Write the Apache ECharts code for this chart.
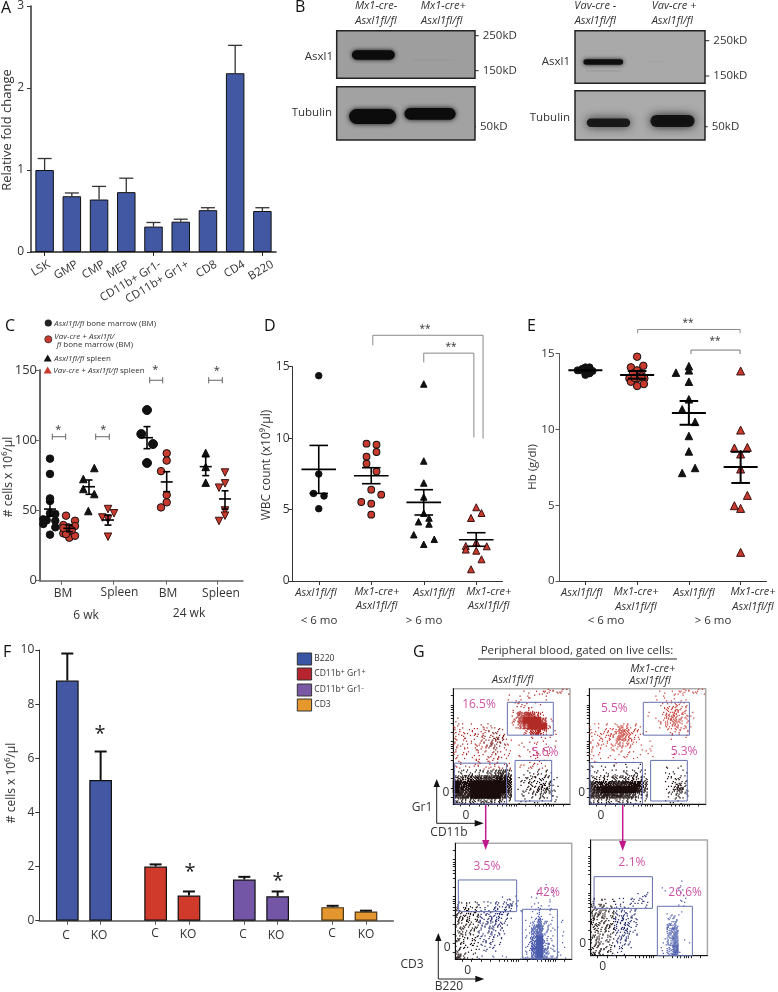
<!DOCTYPE html>
<html><head><meta charset="utf-8">
<style>html,body{margin:0;padding:0;background:#fff}#c{width:778px;height:992px}</style>
<script src="https://cdn.jsdelivr.net/npm/echarts@6/dist/echarts.min.js"></script>
</head><body><div id="c"></div>
<script>
// ---------- Panel A ----------
const aCategories=['LSK','GMP','CMP','MEP','CD11b+ Gr1-','CD11b+ Gr1+','CD8','CD4','B220'];
const aMeans=[1.0,0.68,0.64,0.73,0.31,0.37,0.51,2.18,0.50];
const aTops=[1.14,0.72,0.80,0.90,0.36,0.40,0.54,2.52,0.54];
// ---------- Panel C (x = position along the axis, swarm layout) ----------
const cBmCtrl6=[[10,86.9],[10,76],[10,58.6],[10,56.7],[10,32.8],[3.3,43.7],[3.3,40.4],[15.3,47.5],[15.3,42.7],[15.3,38],[6.7,43],[10,48]];
const cBmKo6=[[26,46.3],[35,42.7],[35,38.9],[23.3,39.6],[23.3,33.7],[28.3,38],[29.3,30.6],[35,32],[26,33.2],[31.7,36],[23.3,37.5]];
const cSpCtrl6=[[43.3,72.4],[43.3,65.3],[54.3,80.2],[54.3,61.7],[48.3,49.6]];
const cSpKo6=[[68,51],[74,48],[62.3,45],[68,31.3],[68,43.7]];
const cBmCtrl24=[[107,121.5],[101.3,104.4],[113,97.3],[107,83.8]];
const cBmKo24=[[126.7,90.7],[126.7,85.5],[121,78],[126.7,61],[126.7,55.8],[121,52.2]];
const cSpCtrl24=[[165.7,91],[165.7,81],[165.7,69.8]];
const cSpKo24=[[185,77],[185,69.3],[179,66.2],[185,50],[185,46.3],[179,42.5]];
const cStats=[[10,51,56,46],[29.3,37.3,39.6,34.9],[49,66.9,71.7,61.5],[68,43.2,46.8,39.6],[107,101.8,109.7,94],[126.7,70.3,77.6,63.4],[165.7,81.2,88.3,74.8],[185,58.2,64,51]];
const cBrackets=[[12.3,25.7,102.5],[55.7,69.3,102.5],[109.7,122.7,142.7],[168.7,182.3,142.7]];
const cAxisTicks=[21.7,73.3,126,177.3];
// ---------- Panel D ----------
const dCategories=['Asxl1fl/fl','Mx1-cre+\nAsxl1fl/fl','Asxl1fl/fl','Mx1-cre+\nAsxl1fl/fl'];
const dCtrlYoung=[[0,14.37],[0,7.49],[-0.1,6.13],[0.1,5.95],[0,5.06]];
const dKoYoung=[[0.91,9.61],[1.1,9.54],[1.1,9.03],[0.91,8.7],[0.91,8.21],[1.1,7.67],[1,6.39],[1.19,6.04],[0.81,5.53],[1,5.41],[1,4.64]];
const dCtrlOld=[[2,13.79],[2,8.4],[2,6.86],[2,5.88],[2,4.74],[1.9,4.15],[2.1,4.41],[2.1,3.99],[1.81,3.24],[2,2.57],[2.2,2.92]];
const dKoOld=[[3,5.16],[3.1,4.76],[2.9,4.41],[2.8,2.45],[3.2,2.43],[3,2.7],[2.8,2.2],[3,2.12],[3.1,1.52],[2.9,0.82]];
const dStats=[[0,7.81,9.49,6.13],[1,7.37,7.93,6.81],[2,5.5,6.39,4.62],[3,2.89,3.38,2.43]];
const dBracketOuter=[[1.03,16.5],[1.03,17.2],[3.13,17.2],[3.13,9.96]];
const dBracketInner=[[2,15.3],[2,15.95],[2.955,15.95],[2.955,10.05]];
// ---------- Panel E ----------
const eCtrlYoung=[[-0.15,13.9],[-0.08,13.9],[0,14.1],[0.08,14.1],[0.14,13.86],[0,13.6],[0.08,13.7],[-0.06,14]];
const eKoYoung=[[1,14.8],[1.12,14.2],[0.88,14.1],[1,13.9],[0.92,13.7],[1.08,13.7],[0.85,13.37],[1.14,13.37],[0.88,13.15],[1,13.37],[1.13,13],[1,12.87],[1.08,13.5],[0.95,13.4]];
const eCtrlOld=[[2,14.18],[2,13.9],[1.75,13.75],[2,13.15],[2,11.99],[1.87,11.33],[2.12,10.5],[2,9.57],[2,8.55],[2.12,7.46],[1.87,7.13]];
const eKoOld=[[3,13.86],[3,9.96],[2.88,8.78],[3.13,8.82],[3,8.38],[3,7.39],[3.13,5.65],[2.88,4.97],[3,4.79],[3,1.89]];
const eStats=[[0,13.9,13.9,13.9],[1,13.6,13.86,13.35],[2,11.08,11.88,10.31],[3,7.52,8.53,6.47]];
const eBracketOuter=[[1.01,16.35],[1.01,16.6],[2.99,16.6],[2.99,16.35]];
const eBracketInner=[[2.04,14.98],[2.04,15.24],[2.99,15.24],[2.99,14.98]];
// ---------- Panel F ----------
const fLegend=['B220','CD11b+ Gr1+','CD11b+ Gr1-','CD3'];
const fLabels=['C','KO','C','KO','C','KO','C','KO'];
const fLanes=[0.84,1.84,3.49,4.49,6.15,7.15,8.80,9.80];
const fMeans=[8.87,5.2,2.0,0.93,1.52,0.9,0.5,0.34];
const fTops=[9.87,6.25,2.08,1.08,1.62,1.08,0.55,0.37];
// ---------- Panel B: band darkness per blot [x0,x1,centre,height,darkness] in % of blot ----------
const blotMx1Asxl=[[11,42,51,20,1],[55,86,62,2,.05]];
const blotMx1Tub=[[9,43,56,28,1],[49,86,51,22,1]];
const blotVavAsxl=[[6.5,37,59.5,10,.95],[8.5,36,76.6,5,.05],[56,69,59,3,.03]];
const blotVavTub=[[9,42.5,65,17,.88],[58,92,61.5,24,.92]];
// ---------- Panel G: dot density read per 5% x 5% cell, top row first.
// digits = black dots, lowercase = gate colour, uppercase = darker gate colour; 1 sparse ... 9 saturated ----------
const gFlowCtrlMyeloid=[
"............a.abbbba",
".........a.aaa.a....",
"..........aba.a.....",
"..........aaba......",
"..........bfhgea....",
"a.........cgiiifa...",
"ba.aabaa..aehiiib...",
"bbababBBa...cfhd.a..",
"bbaabBCDCa...a.aa...",
"baabbBDCBa.a.aaa.a..",
"baaabbBBaa..aa.aa...",
"baaaaabbaa.a.ab.a...",
"aa.ababb.a...aaa....",
"aaaaaabbab.aabaa....",
"1222233564..11221...",
"5566777887.1232321..",
"9889999997.1233431..",
"9889999997.1234541..",
"8889999986.1123321..",
"4444444432.1111111.."];
const gFlowKoMyeloid=[
"............a.abbbba",
"...........aa.a.a...",
"............aabba...",
"............acdcb...",
"..........a.adecca..",
"...........abdedba..",
"aaaabdcba...acdcba..",
"babccfecba...abba...",
"abbcdfeca.....a.a...",
"abbbcdcba.a.........",
"ba.abbaa.aa.........",
"aa.a.ab.a.a...a.....",
"aa..a..a............",
"1.1.1.1.1....1.1....",
"1111112221...11.1...",
"3333444443...1221...",
"7777888885...1342...",
"8899999985...1363...",
"7788887643...1232...",
"3333333211...111...."];
const gFlowCtrlLymph=[
"....................",
"....................",
"....................",
"....................",
"....................",
"....................",
"....................",
"...............a....",
"..............a.a...",
"........AAA..a..a...",
"2212AABBCDA..aa.a...",
"3333BBCBCB.a.ab.a...",
"4333BCCDBA...ac.a...",
"3333CCDCB...abfca.a.",
"3323BCCCA...afhcaa..",
"3322BBCBA...afhca.a.",
"3222BBBA....bfica...",
"2222ABBA....bgidb.a.",
"3111AAA.....bhifba..",
"6211A.a.a..abgiebaa."];
const gFlowKoLymph=[
"....................",
"....................",
"....................",
"....................",
"....................",
"....................",
"....................",
"...............a....",
"............a..a....",
"........AB.....a....",
"2111AAABCA.....aa...",
"3322BBAA.A.....a....",
"4433BCBB.....a.a....",
"4333CDCB.....bc.....",
"4333CCCB.....dd.....",
"3333CDCA.....ef.....",
"3322BCCA.....eg.....",
"3322BCB.....adg.a...",
"3322BBA.....adh.....",
"4322AA......adha...."];
// gates [x0,x1,y0,y1] and percent labels [text,x,y], in % of the plot
const gGatesCtrlMyeloid=[[46.3,85.7,59.7,88.2],[1.1,45.7,0,35.4],[52.9,84.3,2.6,37.8]];
const gGatesKoMyeloid=[[46.4,86,59.7,88.2],[0.6,45.6,0,36],[52.7,84.2,2.6,37.8]];
const gGatesCtrlLymph=[[2.6,52.7,41.1,68.4],[57.6,87.7,0.9,43.1]];
const gGatesKoLymph=[[2.9,52.9,40.9,68.3],[57.1,87.1,0,42.7]];
const gPctCtrlMyeloid=[['16.5%',22,86.6],['5.6%',78.6,44.7]];
const gPctKoMyeloid=[['5.5%',21.5,83],['5.3%',81.4,45.5]];
const gPctCtrlLymph=[['3.5%',27.2,80.2],['42%',79.7,57.5]];
const gPctKoLymph=[['2.1%',35.4,80.1],['26.6%',80.9,54.8]];
const gAxisTicks=[6,14,22,30,38,42,45,48,50,52,54,62,70,74,77,80,82,84,86,94];

// ---------- Build helpers ----------
const FF='"Open Sans","Noto Sans",sans-serif', TXT='#333';
const grids=[],xAxes=[],yAxes=[],series=[],gfx=[];
function panel(box,xa,ya){
  grids.push(Object.assign({containLabel:false},box));
  const i=grids.length-1;
  xAxes.push(Object.assign({gridIndex:i},xa)); yAxes.push(Object.assign({gridIndex:i},ya));
  return i;
}
function hiddenAxis(extra){return Object.assign({type:'value',min:0,max:100,show:false},extra||{});}
function yValue(min,max,step,fs,col,lw,mg){return {type:'value',min:min,max:max,interval:step,
  axisLine:{show:true,onZero:false,lineStyle:{color:col,width:lw}},axisTick:{show:true,length:4,lineStyle:{color:col,width:1}},
  axisLabel:{fontFamily:FF,fontSize:fs,color:TXT,margin:mg},splitLine:{show:false}};}
function xValue(min,max,ticks,col,lw){return {type:'value',min:min,max:max,
  axisLine:{show:true,onZero:false,lineStyle:{color:col,width:lw}},axisTick:{show:true,length:4,customValues:ticks,lineStyle:{color:col,width:1}},
  axisLabel:{show:false},splitLine:{show:false}};}
function T(x,y,text,o){o=o||{};
  const size=o.size||11;
  const st={text:text,fontFamily:FF,fontSize:size,fontStyle:o.italic?'italic':'normal',fill:o.color||TXT,textAlign:o.align||'center',textVerticalAlign:'middle'};
  if(o.rich)st.rich=o.rich;
  gfx.push({type:'text',x:x,y:y,rotation:o.rot||0,silent:true,z:50,style:st});
}
function L(points,col,w){gfx.push({type:'polyline',silent:true,z:40,shape:{points:points},style:{stroke:col,lineWidth:w,fill:null}});}
function scatter(i,data,symbol,size,fill,stroke,rot,bw){series.push({type:'scatter',xAxisIndex:i,yAxisIndex:i,data:data,symbol:symbol,symbolSize:size,symbolRotate:rot||0,silent:true,clip:false,z:3,
  itemStyle:{color:fill,borderColor:stroke,borderWidth:bw===undefined?1:bw,opacity:1}});}
function stats(i,data,hw,cw,lw){series.push({type:'custom',xAxisIndex:i,yAxisIndex:i,data:data,silent:true,z:5,
  renderItem:function(p,api){const x=api.value(0),m=api.coord([x,api.value(1)]),h=api.coord([x,api.value(2)]),l=api.coord([x,api.value(3)]);
    const s={stroke:'#000',lineWidth:lw};
    const ln=(a,b,c,d)=>({type:'line',shape:{x1:a,y1:b,x2:c,y2:d},style:s});
    return {type:'group',children:[ln(m[0]-hw,m[1],m[0]+hw,m[1]),ln(m[0],h[1],m[0],l[1]),ln(m[0]-cw,h[1],m[0]+cw,h[1]),ln(m[0]-cw,l[1],m[0]+cw,l[1])]};}});}
function topErr(i,data,cw,lw,col){series.push({type:'custom',xAxisIndex:i,yAxisIndex:i,data:data,silent:true,z:5,
  renderItem:function(p,api){const b=api.coord([api.value(0),api.value(1)]),t=api.coord([api.value(0),api.value(2)]);
    const s={stroke:col,lineWidth:lw};
    return {type:'group',children:[{type:'line',shape:{x1:b[0],y1:b[1],x2:t[0],y2:t[1]},style:s},{type:'line',shape:{x1:t[0]-cw,y1:t[1],x2:t[0]+cw,y2:t[1]},style:s}]};}});}
function polyline(i,pts,col,w){series.push({type:'line',xAxisIndex:i,yAxisIndex:i,data:pts,showSymbol:false,silent:true,clip:false,lineStyle:{color:col,width:w},z:2});}

// ---------- A ----------
(function(){
  const i=panel({left:31,top:3.5,width:245,height:248.5},
    {type:'category',data:aCategories,axisLine:{lineStyle:{color:'#222',width:1.5}},axisTick:{show:true,alignWithLabel:true,length:4,lineStyle:{color:'#222'}},
     axisLabel:{show:false}},
    yValue(0,3,1,12,'#333',1.5,7));
  series.push({type:'bar',xAxisIndex:i,yAxisIndex:i,data:aMeans,barWidth:18.5,silent:true,itemStyle:{color:'#4358a3',borderColor:'#111',borderWidth:1}});
  topErr(i,aCategories.map((c,k)=>[k,aMeans[k],aTops[k]]),7,1.3,'#333');
  const ends=[49,77,104,128,160,188,216,244,272.7];
  aCategories.forEach((c,k)=>T(ends[k],263.5,c,{size:11.5,align:'right',rot:31*Math.PI/180}));
  T(7,130,'Relative fold change',{size:13,rot:Math.PI/2});
  T(6,8,'A',{size:16,color:'#111'});
})();

// ---------- B ----------
function blot(box,bands,bg,blur){
  const i=panel(Object.assign({show:true,backgroundColor:bg,borderColor:'#222',borderWidth:1.5},box),hiddenAxis(),hiddenAxis({inverse:true}));
  series.push({type:'custom',xAxisIndex:i,yAxisIndex:i,data:bands,silent:true,
    renderItem:function(p,api){const yc=api.value(2),h=api.value(3),a=api.value(4);
      const p0=api.coord([api.value(0),yc-h/2]),p1=api.coord([api.value(1),yc+h/2]);
      const c='rgba(12,12,12,'+a+')';
      return {type:'rect',shape:{x:p0[0],y:p0[1],width:p1[0]-p0[0],height:p1[1]-p0[1],r:(p1[1]-p0[1])/2},style:{fill:c,shadowBlur:blur,shadowColor:c}};}});
}
blot({left:336.7,top:30.7,width:138.3,height:47.6},blotMx1Asxl,'#9e9e9e',4);
blot({left:336.7,top:86.7,width:138.3,height:53.3},blotMx1Tub,'#a2a2a2',5);
blot({left:575,top:30.7,width:130,height:52.6},blotVavAsxl,'#a9a9a9',4);
blot({left:575,top:90.7,width:130,height:49.3},blotVavTub,'#ababab',10);
T(295,7,'B',{size:16,color:'#111',align:'left'});
T(376,5.5,'Mx1-cre-',{italic:1});T(376,21,'Asxl1fl/fl',{italic:1});
T(443.3,5.5,'Mx1-cre+',{italic:1});T(441.7,21,'Asxl1fl/fl',{italic:1});
T(595.3,5.5,'Vav-cre -',{italic:1});T(595.3,21,'Asxl1fl/fl',{italic:1});
T(674,5.5,'Vav-cre +',{italic:1});T(672.3,21,'Asxl1fl/fl',{italic:1});
T(333,56.7,'Asxl1',{align:'right',size:11.5});T(332,113,'Tubulin',{align:'right',size:11.5});
T(570,62,'Asxl1',{align:'right',size:11.5});T(570,118,'Tubulin',{align:'right',size:11.5});
[[35.7,482.7,'250kD',475],[70.7,482.7,'150kD',475],[126.7,480,'50kD',475],[40.7,713.3,'250kD',705],[76,713.3,'150kD',705],[126.7,711.7,'50kD',705]].forEach(m=>{
  L([[m[3],m[0]],[m[1]-4,m[0]]],'#222',1);T(m[1],m[0],m[2],{align:'left',size:11.5});});

// ---------- C ----------
(function(){
  const i=panel({left:40,top:370,width:203,height:210.7},xValue(0,203,cAxisTicks,'#666',1.5),yValue(0,150,50,13,'#666',2,3));
  const R='#c8392e',K='#111',RB='#3a1210';
  scatter(i,cBmCtrl6,'circle',7.5,K,K);
  scatter(i,cBmKo6,'circle',7.5,R,K);
  scatter(i,cSpCtrl6,'triangle',7.5,K,K);
  scatter(i,cSpKo6,'triangle',7.5,R,RB,180);
  scatter(i,cBmCtrl24,'circle',9,K,K);
  scatter(i,cBmKo24,'circle',7.5,R,K);
  scatter(i,cSpCtrl24,'triangle',7.5,K,K);
  scatter(i,cSpKo24,'triangle',7.5,R,RB,180);
  stats(i,cStats,6,3.5,1.6);
  cBrackets.forEach(b=>{polyline(i,[[b[0],b[2]+2.2],[b[0],b[2]-2.2]],'#666',1);polyline(i,[[b[0],b[2]],[b[1],b[2]]],'#666',1);polyline(i,[[b[1],b[2]+2.2],[b[1],b[2]-2.2]],'#666',1);});
  T(5,326,'C',{size:16,color:'#111',align:'left'});
  [[58.3,427.5],[103.3,427.5],[155.3,367.5],[216.7,368.5]].forEach(s=>T(s[0],s[1]+2,'*',{size:11}));
  T(63,593.5,'BM',{size:12});T(119.5,592.5,'Spleen',{size:12});T(168,593.5,'BM',{size:12});T(221,593.5,'Spleen',{size:12});
  T(86,615.5,'6 wk',{size:12});T(189,614,'24 wk',{size:12});
  T(9,477,'# cells x 10⁶/µl',{size:12,rot:Math.PI/2});
  const rich={i:{fontStyle:'italic',fontSize:8,fontFamily:FF,fill:TXT},n:{fontSize:8,fontFamily:FF,fill:TXT}};
  T(54.3,323.5,'{i|Asxl1fl/fl} {n|bone marrow (BM)}',{size:8,align:'left',rich});
  T(54.3,336.7,'{i|Vav-cre + Asxl1fl/}',{size:8,align:'left',rich});
  T(56.7,345,'{i|fl} {n|bone marrow (BM)}',{size:8,align:'left',rich});
  T(54.3,358.7,'{i|Asxl1fl/fl} {n|spleen}',{size:8,align:'left',rich});
  T(53.3,370.3,'{i|Vav-cre + Asxl1fl/fl} {n|spleen}',{size:8,align:'left',rich});
  gfx.push({type:'circle',silent:true,z:40,shape:{cx:48.3,cy:323,r:3.6},style:{fill:'#222'}});
  gfx.push({type:'circle',silent:true,z:40,shape:{cx:48.3,cy:339.3,r:3.6},style:{fill:R,stroke:'#333',lineWidth:.8}});
  gfx.push({type:'polygon',silent:true,z:40,shape:{points:[[47.7,354.5],[51.7,361.5],[43.7,361.5]]},style:{fill:'#111'}});
  gfx.push({type:'polygon',silent:true,z:40,shape:{points:[[47.7,366.5],[51.7,373.5],[43.7,373.5]]},style:{fill:R}});
})();

// ---------- D ----------
(function(){
  const i=panel({left:292.5,top:366.7,width:210,height:214.3},xValue(-0.5,3.5,[0,1,2,3],'#333',1),yValue(0,15,5,12,'#333',1,3));
  const R='#c8392e',K='#111',RB='#3a1210';
  scatter(i,dCtrlYoung,'circle',6.5,K,K);
  scatter(i,dKoYoung,'circle',6.8,R,K);
  scatter(i,dCtrlOld,'triangle',6.5,K,K);
  scatter(i,dKoOld,'triangle',7,R,RB);
  stats(i,dStats,17.3,9.3,1.6);
  polyline(i,dBracketOuter,'#888',1);polyline(i,dBracketInner,'#888',1);
  T(425,329,'**',{size:10});T(451,347,'**',{size:10});
  const ys=[592.7,606.7];
  [[316,0],[376.7,1],[434,2],[488.7,3]].forEach(a=>{
    dCategories[a[1]].split('\n').forEach((t,j,arr)=>T(a[0],arr.length>1?ys[j]-.7:592.5,t,{italic:1,size:11}));
  });
  T(319,621,'< 6 mo',{size:11.5});T(424,621,'> 6 mo',{size:11.5});
  T(267,465,'WBC count (x10⁹/µl)',{size:12,rot:Math.PI/2});
  T(264,326,'D',{size:16,color:'#111',align:'left'});
})();

// ---------- E ----------
(function(){
  const i=panel({left:559.5,top:353.7,width:207,height:227.3},xValue(-0.5,3.5,[0,1,2,3],'#333',1),yValue(0,15,5,11.5,'#555',1,5));
  const R='#c8392e',K='#111',RB='#3a1210';
  scatter(i,eCtrlYoung,'circle',7,K,K);
  scatter(i,eKoYoung,'circle',7.5,R,K);
  scatter(i,eCtrlOld,'triangle',7.5,K,K);
  scatter(i,eKoOld,'triangle',8,R,RB);
  stats(i,eStats,17,9.3,2);
  polyline(i,eBracketOuter,'#888',1);polyline(i,eBracketInner,'#777',1);
  T(688,323,'**',{size:10});T(715,341,'**',{size:10});
  [[581.7,0],[636,1],[694,2],[753,3]].forEach(a=>{
    dCategories[a[1]].split('\n').forEach((t,j,arr)=>T(a[0],arr.length>1?[592,607][j]:592.5,t,{italic:1,size:11}));
  });
  T(606,621,'< 6 mo',{size:11.5});T(713,621,'> 6 mo',{size:11.5});
  T(533,467,'Hb (g/dl)',{size:11.5,rot:Math.PI/2});
  T(527,326,'E',{size:16,color:'#111',align:'left'});
})();

// ---------- F ----------
(function(){
  const colors=['#4457a3','#4457a3','#cf3a2a','#cf3a2a','#7356a5','#7356a5','#e2962d','#e2962d'];
  const i=panel({left:39.3,top:650,width:354,height:270.7},xValue(0,10.62,fLanes,'#555',1.5),yValue(0,10,2,12,'#333',1,5));
  series.push({type:'bar',xAxisIndex:i,yAxisIndex:i,barWidth:22.7,silent:true,
    data:fLanes.map((x,k)=>({value:[x,fMeans[k]],itemStyle:{color:colors[k],borderColor:k>5?'#4a3515':'#111',borderWidth:1.2}}))});
  topErr(i,fLanes.map((x,k)=>[x,fMeans[k],fTops[k]]),6,2,'#111');
  const ly=[936,936,934,935,935,936,934,935],lx=[66,99,155,188,243,276,332,366];
  fLabels.forEach((t,k)=>T(lx[k],ly[k],t,{size:12}));
  [[100,734],[190,872],[278,881]].forEach(s=>T(s[0],s[1],'*',{size:20,color:'#222'}));
  T(12,783,'# cells x 10⁶/µl',{size:12,rot:Math.PI/2});
  T(3,652,'F',{size:16,color:'#111',align:'left'});
  const lc=['#3a55a4','#b5242f','#7a58a6','#e7982c'],lt=[659,674,690,705];
  const sup={n:{fontSize:8.5,fontFamily:FF,fill:TXT},s:{fontSize:7,fontFamily:FF,fill:TXT,verticalAlign:'top',padding:[0,0,4,0]}};
  const labs=['B220','{n|CD11b}{s|+} {n|Gr1}{s|+}','{n|CD11b}{s|+} {n|Gr1}{s|-}','CD3'];
  fLegend.forEach((t,k)=>{
    gfx.push({type:'rect',silent:true,z:40,shape:{x:297.3,y:lt[k]-6,width:14.3,height:12},style:{fill:lc[k],stroke:'#333',lineWidth:1}});
    T(314.3,lt[k],labs[k],{size:8.5,align:'left',rich:sup});
  });
})();

// ---------- G ----------
function flow(box,rows,gates,pcts,c1,c2,xZero,yZero){
  const ax=(ticks)=>({type:'value',min:0,max:100,axisLine:{show:true,onZero:false,lineStyle:{color:'#111',width:1}},
    axisTick:{show:true,inside:false,length:2.5,customValues:ticks,lineStyle:{color:'#222',width:1}},axisLabel:{show:false},splitLine:{show:false}});
  const i=panel(Object.assign({show:true,borderColor:'#aaa',borderWidth:1.5},box),ax(gAxisTicks),ax(gAxisTicks));
  const cells=[];
  rows.forEach((r,row)=>{for(let col=0;col<r.length;col++){const ch=r[col];if(ch==='.')continue;
    let lv,tone;
    if(ch>='0'&&ch<='9'){lv=+ch;tone=0;}else if(ch>='a'&&ch<='i'){lv=ch.charCodeAt(0)-96;tone=1;}else{lv=ch.charCodeAt(0)-64;tone=2;}
    cells.push([col,row,lv,tone]);}});
  const COUNT=[0,2,4,6,9,13,18,23,29,36];
  const ORDER=[14,27,3,32,9,20,1,24,35,11,17,6,29,12,22,0,33,8,19,26,4,15,30,10,23,2,34,13,7,28,18,5,25,16,31,21];
  const tones=['#1a0c0c',c1,c2];
  series.push({type:'custom',xAxisIndex:i,yAxisIndex:i,data:cells,silent:true,z:2,
    renderItem:function(p,api){const col=api.value(0),row=api.value(1),lv=api.value(2),tn=api.value(3);
      const o=api.coord([col*5,100-row*5]),sz=api.size([5,5]),w=sz[0],h=sz[1],f=tones[tn];
      const kids=[];
      if(lv===9)kids.push({type:'rect',shape:{x:o[0]-.6,y:o[1]-.6,width:w+1.2,height:h+1.2},style:{fill:f}});
      else{const st=(col*7+row*11)%36;
        for(let k=0;k<COUNT[lv];k++){const id=ORDER[(st+k)%36];
          kids.push({type:'rect',shape:{x:o[0]+(id%6)*w/6,y:o[1]+Math.floor(id/6)*h/6,width:1.25,height:1.25},style:{fill:f}});}}
      return {type:'group',children:kids};}});
  series.push({type:'custom',xAxisIndex:i,yAxisIndex:i,data:gates,silent:true,z:4,
    renderItem:function(p,api){const a=api.coord([api.value(0),api.value(3)]),b=api.coord([api.value(1),api.value(2)]);
      return {type:'rect',shape:{x:a[0],y:a[1],width:b[0]-a[0],height:b[1]-a[1]},style:{fill:null,stroke:'#6470ad',lineWidth:1}};}});
  series.push({type:'scatter',xAxisIndex:i,yAxisIndex:i,symbolSize:0,silent:true,z:6,clip:false,
    data:pcts.map(q=>({value:[q[1],q[2]],label:{show:true,position:'inside',formatter:q[0],fontFamily:FF,fontSize:12,color:'#c2278f'}}))});
  T(xZero[0],xZero[1],'0',{size:12});T(yZero[0],yZero[1],'0',{size:12});
}
flow({left:453.3,top:688.7,width:116.7,height:115.3},gFlowCtrlMyeloid,gGatesCtrlMyeloid,gPctCtrlMyeloid,'#b02a26','#7a1c1a',[466,815.7],[446,793]);
flow({left:589.3,top:688.7,width:116.4,height:115.3},gFlowKoMyeloid,gGatesKoMyeloid,gPctKoMyeloid,'#c9443c','#8a2420',[601,815.7],[581.7,793]);
flow({left:455.3,top:843.3,width:116.4,height:116},gFlowCtrlLymph,gGatesCtrlLymph,gPctCtrlLymph,'#4a5bab','#232a6e',[467.7,971],[447.3,948]);
flow({left:590.7,top:840,width:116.7,height:115.7},gFlowKoLymph,gGatesKoLymph,gPctKoLymph,'#4a5bab','#232a6e',[602.7,967],[582.7,944]);
T(413,652,'G',{size:16,color:'#111',align:'left'});
T(577,651,'Peripheral blood, gated on live cells:',{size:11.5});
L([[478,659],[677,659]],'#222',1);
T(512.7,680,'Asxl1fl/fl',{italic:1,size:11});T(652.7,668.7,'Mx1-cre+',{italic:1,size:11});T(650,681,'Asxl1fl/fl',{italic:1,size:11});
function axisArrows(x,yTop,yBot,xEnd){
  L([[x,yTop+4],[x,yBot],[xEnd-4,yBot]],'#222',1);
  gfx.push({type:'polygon',silent:true,z:40,shape:{points:[[x,yTop-2],[x+3.2,yTop+6],[x-3.2,yTop+6]]},style:{fill:'#111'}});
  gfx.push({type:'polygon',silent:true,z:40,shape:{points:[[xEnd+2,yBot],[xEnd-7,yBot-3.2],[xEnd-7,yBot+3.2]]},style:{fill:'#111'}});
}
axisArrows(436.7,781,823.3,481.7);axisArrows(438.3,935,979,482.3);
T(422,808,'Gr1',{size:12});T(449,832.5,'CD11b',{size:12});T(412,965,'CD3',{size:12});T(449,987,'B220',{size:12});
[[485.7,805,847],[622.7,805,848]].forEach(a=>{
  L([[a[0],a[1]],[a[0],a[2]-6]],'#c2188c',1.5);
  gfx.push({type:'polygon',silent:true,z:40,shape:{points:[[a[0],a[2]+3],[a[0]+3.6,a[2]-7],[a[0]-3.6,a[2]-7]]},style:{fill:'#c2188c'}});
});

const chart=echarts.init(document.getElementById('c'),null,{renderer:'canvas',width:778,height:992});
chart.setOption({animation:false,backgroundColor:'#fff',grid:grids,xAxis:xAxes,yAxis:yAxes,series:series,graphic:{elements:gfx}});
</script></body></html>
